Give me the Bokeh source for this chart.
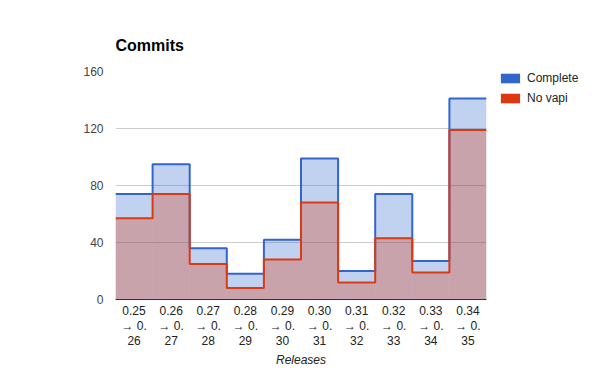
from bokeh.plotting import figure
from bokeh.layouts import row
from bokeh.models import FixedTicker, Legend, LegendItem, Range1d, ColumnDataSource
from bokeh.embed import file_html
from bokeh.resources import INLINE

releases = ["0.25\n\u2192 0.\n26", "0.26\n\u2192 0.\n27", "0.27\n\u2192 0.\n28", "0.28\n\u2192 0.\n29",
            "0.29\n\u2192 0.\n30", "0.30\n\u2192 0.\n31", "0.31\n\u2192 0.\n32", "0.32\n\u2192 0.\n33",
            "0.33\n\u2192 0.\n34", "0.34\n\u2192 0.\n35"]
complete = [74, 95, 36, 18, 42, 99, 20, 74, 27, 141]
no_vapi = [57, 74, 25, 8, 28, 68, 12, 43, 19, 119]
series_names = ["Complete", "No vapi"]
y_ticks = [0, 40, 80, 120, 160]

BLUE = "#3366cc"
RED = "#dc3912"
FONT = "Liberation Sans"
nan = float("nan")

n = len(releases)
idx = list(range(n))
left = [i - 0.5 for i in idx]
right = [i + 0.5 for i in idx]
edges = left + [right[-1]]

p = figure(width=498, height=371, output_backend="svg", toolbar_location=None,
           x_range=Range1d(-0.5, n - 0.5), y_range=Range1d(0, 160),
           min_border_left=115, min_border_right=12, min_border_top=71, min_border_bottom=72)
p.outline_line_color = None
p.background_fill_color = "white"
p.border_fill_color = "white"

p.title.text = "Commits"
p.title.text_font = FONT
p.title.text_font_size = "16px"
p.title.text_font_style = "bold"
p.title.text_color = "#000000"
p.title.align = "left"
p.title.standoff = 36

src_c = ColumnDataSource(dict(left=left, right=right, top=complete, bottom=[0] * n))
src_n = ColumnDataSource(dict(left=left, right=right, top=no_vapi, bottom=[0] * n))
p.quad(left="left", right="right", top="top", bottom="bottom", source=src_c,
       fill_color=BLUE, fill_alpha=0.3, line_color=None)
p.quad(left="left", right="right", top="top", bottom="bottom", source=src_n,
       fill_color=RED, fill_alpha=0.3, line_color=None)
p.step(x=edges, y=complete + [complete[-1]], mode="after", line_color=BLUE, line_width=2)
p.step(x=edges, y=no_vapi + [no_vapi[-1]], mode="after", line_color=RED, line_width=2)

# grid
p.xgrid.grid_line_color = None
p.ygrid.ticker = FixedTicker(ticks=y_ticks)
p.ygrid.grid_line_color = "#cccccc"

# y axis
p.yaxis.ticker = FixedTicker(ticks=y_ticks)
p.yaxis.axis_line_color = None
p.yaxis.major_tick_line_color = None
p.yaxis.major_tick_out = 0
p.yaxis.major_tick_in = 0
p.yaxis.minor_tick_line_color = None
p.yaxis.major_label_standoff = 12
p.yaxis.major_label_text_font = FONT
p.yaxis.major_label_text_font_size = "12px"
p.yaxis.major_label_text_color = "#444444"

# x axis
p.xaxis.ticker = FixedTicker(ticks=idx)
p.xaxis.major_label_overrides = {i: releases[i] for i in idx}
p.xaxis.axis_line_color = "#333333"
p.xaxis.axis_line_width = 1
p.xaxis.major_tick_line_color = None
p.xaxis.major_tick_out = 0
p.xaxis.major_tick_in = 0
p.xaxis.minor_tick_line_color = None
p.xaxis.major_label_standoff = 4
p.xaxis.major_label_text_font = FONT
p.xaxis.major_label_text_font_size = "12px"
p.xaxis.major_label_text_color = "#222222"
p.xaxis.major_label_text_line_height = 1.1
p.xaxis.axis_label = "Releases"
p.xaxis.axis_label_text_font = FONT
p.xaxis.axis_label_text_font_size = "12px"
p.xaxis.axis_label_text_font_style = "italic"
p.xaxis.axis_label_text_color = "#222222"
p.xaxis.axis_label_standoff = 2

# legend panel (swatch renderers hold no drawable data)
lg = figure(width=102, height=371, output_backend="svg", toolbar_location=None,
            x_axis_location=None, y_axis_location=None, min_border=0,
            x_range=Range1d(0, 1), y_range=Range1d(0, 1))
lg.outline_line_color = None
lg.grid.grid_line_color = None
lg.background_fill_color = "white"
lg.border_fill_color = "white"
empty = dict(left=[nan], right=[nan], top=[nan], bottom=[nan])
r_c = lg.quad(left="left", right="right", top="top", bottom="bottom",
              source=ColumnDataSource(empty), fill_color=BLUE, line_color=None)
r_n = lg.quad(left="left", right="right", top="top", bottom="bottom",
              source=ColumnDataSource(dict(empty)), fill_color=RED, line_color=None)
legend = Legend(items=[LegendItem(label=series_names[0], renderers=[r_c], index=0),
                       LegendItem(label=series_names[1], renderers=[r_n], index=0)],
                location="top_left", padding=0, margin=0, spacing=6,
                glyph_width=24, glyph_height=12, label_height=12, label_standoff=5,
                label_text_font=FONT, label_text_font_size="12px", label_text_color="#222222",
                border_line_alpha=0, background_fill_alpha=0)
lg.add_layout(legend)

layout = row(p, lg, spacing=0)
open("out.html", "w").write(file_html(layout, INLINE))
